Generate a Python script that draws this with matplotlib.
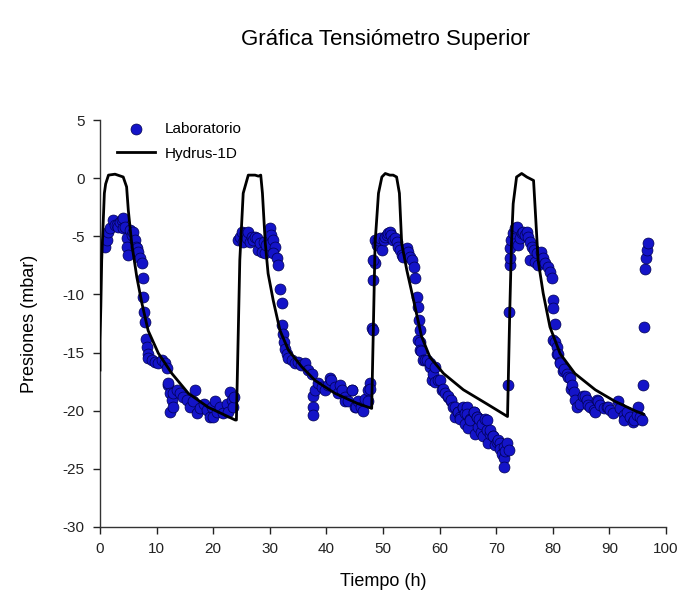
import matplotlib
matplotlib.use("Agg")
import matplotlib.pyplot as plt

plt.rcParams['font.family'] = ['Liberation Sans', 'DejaVu Sans']
plt.rcParams['axes.unicode_minus'] = False

# Laboratory measurements (time in h, pressure in mbar)
t_lab = [
    0.88, 1.18, 1.35, 1.77, 2.36, 2.65, 2.95, 3.24, 3.53, 3.83, 4.1, 4.12, 4.42, 4.71, 4.71, 5.0,
    5.3, 5.6, 5.89, 6.18, 6.3, 6.48, 6.77, 7.07, 7.36, 7.54, 7.66, 7.83, 7.95, 8.07, 8.25, 8.42,
    8.54, 9.13, 9.72, 10.3, 10.9, 11.5, 11.8, 12.07, 12.1, 12.37, 12.37, 12.66, 12.9, 12.96, 13.55,
    14.14, 14.7, 15.3, 15.9, 16.5, 16.8, 17.1, 17.7, 18.3, 18.9, 19.4, 19.7, 20.0, 20.3, 20.6,
    21.2, 21.8, 22.4, 22.67, 22.97, 23.26, 23.5, 23.6,
    24.44, 24.7, 25.0, 25.3, 25.6, 25.9, 26.2, 26.5, 26.8, 27.1, 27.4, 27.7, 28.0, 28.3, 28.6,
    28.9, 29.15, 29.4, 30.0, 30.3, 30.6, 30.9, 30.6, 31.2, 31.5, 31.8, 32.1, 32.1, 32.4, 32.5,
    32.7, 33.0, 33.27, 33.86, 34.5, 35.0, 35.6, 36.2, 36.8, 37.4, 37.7, 37.7, 37.7, 38.0, 38.6,
    39.2, 39.75, 40.3, 40.6, 40.9, 41.5, 42.1, 42.4, 42.7, 43.3, 43.3, 43.9, 44.46, 44.5, 45.05,
    45.3, 45.6, 46.2, 46.5, 46.8, 47.4, 47.4, 47.7, 47.7,
    48.0, 48.3, 48.3, 48.6, 48.3, 48.6, 48.9, 49.2, 49.5, 49.8, 50.1, 50.4, 50.65, 50.95, 51.2,
    51.5, 51.8, 52.1, 52.4, 52.7, 53.0, 53.3, 53.6, 54.2, 54.5, 54.8, 55.1, 55.4, 55.7, 56.0,
    56.1, 56.2, 56.3, 56.5, 56.5, 56.5, 56.8, 57.1, 57.4, 57.7, 58.3, 58.3, 58.6, 58.9, 59.2,
    59.2, 59.8, 60.0, 60.4, 60.6, 61.0, 61.5, 61.5, 62.1, 62.1, 62.4, 62.7, 62.7, 63.3, 63.3,
    63.6, 63.6, 64.2, 64.2, 64.5, 64.5, 64.8, 64.8, 65.1, 65.4, 65.4, 66.0, 66.0, 66.3, 66.6,
    66.6, 66.8, 66.9, 67.4, 67.5, 67.7, 68.0, 68.3, 68.3, 68.6, 68.9, 68.9, 69.5, 69.5, 69.8,
    70.1, 70.4, 70.7, 70.7, 71.0, 71.3, 71.3, 71.3, 71.6, 71.9, 72.2,
    72.1, 72.26, 72.4, 72.4, 72.4, 72.7, 73.0, 73.3, 73.6, 73.9, 74.2, 74.5, 74.8, 75.1, 75.4,
    75.7, 76.0, 76.3, 76.0, 76.6, 76.9, 77.2, 77.4, 78.0, 78.3, 78.6, 79.2, 79.5, 79.8, 80.0,
    80.1, 80.1, 80.4, 80.4, 80.7, 80.7, 80.9, 81.3, 81.3, 81.8, 81.9, 82.5, 82.7, 83.1, 83.3,
    83.4, 83.7, 83.9, 84.2, 84.8, 85.4, 85.7, 86.0, 86.3, 86.6, 87.2, 87.5, 87.8, 88.0, 88.4,
    89.0, 89.5, 89.8, 90.1, 90.7, 91.6, 91.9, 92.5, 92.5, 93.1, 93.7, 94.2, 94.3, 94.8, 95.1,
    95.4, 95.7, 96.0, 96.2, 96.3, 96.4, 96.6, 96.9,
]
p_lab = [
    -5.9, -5.3, -4.61, -4.33, -3.61, -4.04, -4.04, -4.19, -3.75, -3.61, -3.46, -4.33, -4.19, -5.19, -5.9, -6.62,
    -4.47, -4.9, -4.61, -5.33, -5.9, -6.05, -6.33, -6.9, -7.34, -8.63, -10.2, -11.5, -12.4, -13.79, -14.5, -15.1,
    -15.5, -15.65, -15.8, -15.9, -15.65, -15.9, -16.36, -17.8, -17.65, -18.5, -20.1, -19.1, -18.5, -19.7, -18.2,
    -18.5, -18.8, -19.1, -19.7, -19.2, -18.2, -20.2, -19.8, -19.4, -19.95, -20.5, -19.65, -20.5, -19.2, -20.1,
    -19.65, -20.2, -19.4, -20.1, -18.4, -19.1, -19.7, -18.8,
    -5.33, -5.04, -4.61, -5.47, -4.76, -5.19, -4.61, -5.47, -5.04, -5.33, -5.04, -5.19, -6.19, -5.62, -6.33,
    -5.47, -6.48, -5.76, -4.33, -4.9, -5.33, -5.9, -6.48, -6.9, -7.48, -9.5, -10.77, -12.6, -13.4, -14.1,
    -14.65, -15.1, -15.5, -15.65, -15.9, -15.8, -16.1, -15.9, -16.5, -16.8, -18.7, -19.7, -20.4, -18.2, -17.65,
    -17.94, -18.2, -17.8, -17.2, -17.4, -17.94, -18.5, -17.8, -18.2, -18.8, -19.2, -19.2, -18.2, -18.2, -19.7,
    -19.7, -19.2, -19.7, -20.0, -18.95, -18.2, -19.2, -17.65, -18.1,
    -12.9, -8.77, -13.07, -7.34, -7.05, -5.33, -5.76, -5.33, -5.19, -6.19, -5.33, -5.04, -4.9, -4.76, -4.61,
    -4.9, -5.33, -5.19, -5.47, -5.9, -6.19, -6.62, -6.76, -6.05, -6.33, -6.76, -7.05, -7.62, -8.63, -10.2,
    -11.06, -13.9, -12.2, -13.07, -14.1, -14.8, -14.9, -15.65, -15.65, -15.65, -16.2, -15.9, -17.4, -16.8, -17.5,
    -16.2, -17.4, -17.4, -18.2, -18.1, -18.5, -18.8, -18.7, -19.2, -19.1, -19.7, -19.7, -20.5, -20.1, -20.1,
    -20.5, -20.7, -19.8, -19.7, -20.2, -21.1, -19.65, -20.3, -21.5, -20.7, -20.8, -20.1, -20.1, -21.96, -20.5,
    -20.5, -21.4, -20.7, -21.8, -21.1, -22.2, -20.7, -21.7, -20.8, -22.8, -22.0, -21.7, -22.2, -22.2, -22.96,
    -22.7, -22.5, -22.8, -23.25, -23.7, -23.1, -24.1, -24.8, -23.5, -22.8, -23.4,
    -17.8, -11.5, -7.5, -6.9, -6.05, -5.33, -4.76, -4.33, -4.19, -5.76, -5.19, -4.76, -4.61, -4.9, -4.61,
    -5.04, -5.47, -5.9, -7.05, -6.19, -7.19, -6.48, -7.48, -6.33, -6.9, -7.34, -7.62, -8.05, -8.63, -10.5,
    -11.2, -13.9, -12.5, -14.1, -14.5, -15.1, -15.1, -15.8, -15.9, -16.6, -16.4, -16.8, -17.1, -17.2, -18.1,
    -17.8, -18.4, -19.1, -19.7, -19.4, -18.7, -18.7, -19.1, -19.5, -19.7, -19.95, -20.1, -19.1, -19.2, -19.5,
    -19.8, -19.65, -19.7, -19.95, -20.2, -19.2, -19.8, -20.4, -20.8, -20.1, -20.5, -20.95, -20.8, -20.4, -19.65,
    -20.5, -20.8, -17.8, -12.8, -7.79, -6.9, -6.19, -5.62,
]

# Hydrus-1D simulation
t_sim = [
    0.0, 0.0, 0.15, 0.3, 0.77, 1.0, 1.5, 2.65, 4.1, 4.7, 5.0, 5.6, 6.5, 7.4, 8.5, 10.3, 12.7, 15.6,
    19.1, 23.9, 24.1, 24.7, 25.3, 26.2, 27.4, 28.0, 28.4, 28.7, 29.2, 29.7, 30.6, 31.8, 33.3, 35.6,
    38.0, 41.5, 45.6, 48.0, 48.3, 48.6, 49.2, 49.8, 50.4, 51.2, 51.8, 52.4, 52.9, 53.3, 54.2, 55.4,
    56.8, 58.3, 60.7, 64.2, 68.3, 72.0, 72.4, 72.7, 73.0, 73.6, 74.5, 75.4, 76.6, 76.9, 77.4, 78.3,
    79.5, 81.3, 83.9, 87.5, 91.0, 94.5, 96.0,
]
p_sim = [
    -16.5, -14.0, -11.0, -7.05, -1.3, -0.5, 0.26, 0.34, 0.1, -0.75, -2.75, -5.6, -8.5, -10.75, -13.1,
    -15.05, -16.8, -18.5, -19.7, -20.8, -20.8, -7.05, -1.3, 0.26, 0.26, 0.17, 0.26, -1.3, -5.6, -8.2,
    -10.5, -13.1, -14.8, -16.2, -17.4, -18.5, -19.4, -19.8, -12.8, -5.6, -1.3, 0.1, 0.4, 0.26, 0.26,
    0.1, -1.3, -5.6, -7.9, -10.5, -13.6, -15.4, -16.8, -18.2, -19.4, -20.5, -11.4, -5.6, -2.2, 0.1,
    0.4, 0.1, -0.2, -2.75, -7.05, -9.9, -12.8, -15.1, -16.8, -18.2, -19.2, -20.0, -20.3,
]

x_ticks = [0, 10, 20, 30, 40, 50, 60, 70, 80, 90, 100]
y_ticks = [-30, -25, -20, -15, -10, -5, 0, 5]

fig = plt.figure(figsize=(6.82, 5.95), dpi=100)
ax = fig.add_axes([100 / 682, 1 - 527 / 595, 566 / 682, 407 / 595])

ax.scatter(t_lab, p_lab, s=62, c='#1414c8', edgecolors='#000050', linewidths=0.5,
           label='Laboratorio', zorder=2)
ax.plot(t_sim, p_sim, color='black', lw=2.0, label='Hydrus-1D', zorder=3)

ax.set_xlim(0, 100)
ax.set_ylim(-30, 5)
ax.set_xticks(x_ticks)
ax.set_yticks(y_ticks)
ax.tick_params(direction='out', length=5, width=1, labelsize=11, colors='#222222', pad=6)
for s in ['top', 'right']:
    ax.spines[s].set_visible(False)
for s in ['left', 'bottom']:
    ax.spines[s].set_color('#333333')
    ax.spines[s].set_linewidth(1.0)

ax.set_xlabel('Tiempo (h)', fontsize=13, labelpad=12)
ax.set_ylabel('Presiones (mbar)', fontsize=13, labelpad=18)

fig.text(385 / 682, 1 - 40 / 595, 'Gráfica Tensiómetro Superior', ha='center', va='center', fontsize=16)

leg = ax.legend(loc='upper left', bbox_to_anchor=(117 / 682, 1 - 122 / 595),
                bbox_transform=fig.transFigure, frameon=False, fontsize=11,
                handlelength=2.5, handletextpad=0.6, borderpad=0, borderaxespad=0,
                labelspacing=0.7, scatterpoints=1)

fig.savefig('out.png', dpi=100)
